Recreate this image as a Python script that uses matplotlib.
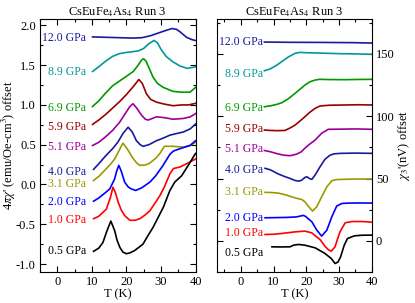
import matplotlib
matplotlib.use("Agg")
import matplotlib.pyplot as plt
from matplotlib.ticker import MultipleLocator

plt.rcParams['font.family'] = ['Liberation Serif', 'DejaVu Serif']
plt.rcParams['mathtext.fontset'] = 'stix'

pressures = ["12.0", "8.9", "6.9", "5.9", "5.1", "4.0", "3.1", "2.0", "1.0", "0.5"]
colors = ["#1a1a9c", "#009999", "#009900", "#990000", "#990099",
          "#1a1a9c", "#999900", "#0000ff", "#ff0000", "#000000"]

# Left panel: 4*pi*chi' (offset) vs T
chi_T = {
    "12.0": [10.2, 14, 18, 22, 24.5, 27, 29, 31, 33.2, 34.5, 35.5, 37.4, 39, 40],
    "8.9": [10.2, 12, 14, 16, 18, 20, 22, 23.5, 25, 26.5, 28, 29, 30, 31.5, 33.5, 35.5, 37.5, 39, 40],
    "6.9": [10.2, 12, 14, 16, 18, 20, 22, 23.4, 24.5, 25, 25.7, 26.7, 27.7, 29, 30.7, 33.5, 36, 38.4, 40],
    "5.9": [10.2, 12, 14, 16, 18, 20, 22, 23.6, 24.6, 25.8, 27, 28.7, 31, 33.5, 36, 38, 40],
    "5.1": [10.2, 12, 14, 16, 18, 19.5, 21, 21.9, 23, 24.4, 25.5, 26.3, 28.7, 31, 33.5, 36.5, 38.5, 40],
    "4.0": [10.5, 12, 14, 16, 17.5, 19, 20.5, 21.7, 22.9, 24, 24.8, 26.5, 28.7, 30.5, 32.6, 34.5, 36.5, 38.5, 40],
    "3.1": [10.5, 12, 14, 15.5, 16.6, 17.8, 19, 20.2, 21.9, 23, 23.9, 25.5, 26.8, 28.5, 29.7, 31, 33.5, 36.5, 38.5, 40],
    "2.0": [10.5, 12, 14, 15.2, 16.6, 17.2, 17.8, 18.5, 19.5, 20.5, 21.4, 22.7, 24.5, 26.8, 28.5, 30.6, 32.6, 33.6, 35.5, 38.4, 40],
    "1.0": [10.5, 12, 14.2, 15.4, 16.1, 16.8, 17.6, 18.5, 19.5, 21, 22.5, 23.9, 25.5, 26.8, 28.5, 29.7, 31, 32.6, 33.6, 35.5, 37.4, 40],
    "0.5": [10.5, 12, 13.2, 14.4, 15.5, 16.6, 17.3, 18.1, 19, 20, 21, 22.4, 24.8, 26, 27.7, 29, 30.7, 32.6, 34, 36, 37.9, 40],
}
chi_v = {
    "12.0": [1.855, 1.85, 1.845, 1.84, 1.845, 1.87, 1.9, 1.93, 1.96, 1.95, 1.92, 1.85, 1.82, 1.81],
    "8.9": [1.42, 1.48, 1.55, 1.61, 1.645, 1.66, 1.67, 1.68, 1.71, 1.77, 1.81, 1.78, 1.70, 1.61, 1.54, 1.49, 1.46, 1.47, 1.48],
    "6.9": [0.98, 1.05, 1.15, 1.24, 1.30, 1.36, 1.42, 1.50, 1.57, 1.58, 1.55, 1.45, 1.35, 1.27, 1.22, 1.17, 1.16, 1.16, 1.22],
    "5.9": [0.755, 0.81, 0.88, 0.96, 1.04, 1.13, 1.23, 1.32, 1.27, 1.14, 1.07, 1.035, 1.01, 0.99, 1.0, 1.0, 1.02],
    "5.1": [0.49, 0.53, 0.60, 0.68, 0.78, 0.88, 0.98, 1.015, 0.96, 0.87, 0.82, 0.81, 0.85, 0.84, 0.82, 0.83, 0.85, 0.89],
    "4.0": [0.19, 0.26, 0.36, 0.45, 0.53, 0.64, 0.72, 0.66, 0.55, 0.50, 0.48, 0.50, 0.55, 0.58, 0.62, 0.64, 0.66, 0.70, 0.76],
    "3.1": [0.05, 0.10, 0.19, 0.26, 0.32, 0.42, 0.52, 0.45, 0.33, 0.27, 0.24, 0.245, 0.27, 0.33, 0.39, 0.48, 0.48, 0.47, 0.49, 0.53],
    "2.0": [-0.21, -0.17, -0.10, -0.055, 0.07, 0.17, 0.24, 0.17, 0.03, -0.03, -0.055, -0.075, -0.04, 0.03, 0.11, 0.24, 0.38, 0.42, 0.45, 0.49, 0.55],
    "1.0": [-0.43, -0.40, -0.31, -0.16, -0.035, -0.10, -0.22, -0.32, -0.39, -0.45, -0.45, -0.43, -0.38, -0.33, -0.22, -0.14, -0.03, 0.135, 0.20, 0.22, 0.26, 0.32],
    "0.5": [-0.84, -0.80, -0.73, -0.58, -0.46, -0.58, -0.70, -0.79, -0.85, -0.87, -0.86, -0.83, -0.75, -0.66, -0.54, -0.43, -0.285, -0.075, 0.03, 0.11, 0.24, 0.39],
}
chi_label_y = [1.84, 1.41, 0.96, 0.72, 0.47, 0.155, 0.0, -0.22, -0.445, -0.83]

# Right panel: chi3' (offset) vs T
chi3_T = {
    "12.0": [7.2, 15, 25, 35, 40],
    "8.9": [7.2, 9, 11, 12.5, 14.5, 16.6, 18, 19.5, 22, 26, 30, 35, 40],
    "6.9": [7.2, 9, 11, 12.5, 14.5, 16.6, 18, 19.6, 21, 22.7, 24, 27, 32, 36, 40],
    "5.9": [7.2, 9, 11, 13.5, 15, 16.6, 18, 19.6, 21, 22.7, 24.2, 27, 32, 36, 40],
    "5.1": [7.2, 9, 11, 13, 15, 17, 18.5, 19.6, 21, 22.7, 24.7, 26.7, 30, 35, 40],
    "4.0": [7.4, 9, 11.5, 13, 15, 16.5, 17.6, 18.5, 19.6, 20.2, 20.9, 21.7, 22.7, 24.2, 25.7, 27.3, 28.5, 30.5, 35, 40],
    "3.1": [7.4, 9, 11.5, 13.5, 15.6, 17, 18.6, 19.6, 20.6, 21.9, 23.2, 24.7, 26.3, 27.8, 29, 30.5, 35, 40],
    "2.0": [7.4, 10, 14.1, 17, 19.1, 19.8, 20.7, 21.7, 23.2, 24.7, 26.3, 27.8, 29.3, 30.9, 33, 36, 40],
    "1.0": [7.4, 10, 12.5, 16.6, 19.6, 21.7, 23, 24.2, 25.7, 26.7, 27.6, 28.8, 29.5, 30.3, 31.9, 34, 37, 40],
    "0.5": [9.5, 12, 15, 16.1, 17.6, 19.6, 22.7, 25.7, 27.6, 28.8, 29.7, 30.5, 31.6, 32.6, 34.7, 37, 40],
}
chi3_v = {
    "12.0": [159.5, 159.3, 159.2, 159.0, 158.7],
    "8.9": [136.5, 138, 141, 143.8, 147.5, 150.5, 151.2, 151, 150.8, 150.5, 150.2, 150, 149.7],
    "6.9": [107.6, 108.3, 109.5, 110.8, 114, 118.4, 121.5, 125, 127.5, 129, 129.6, 129.4, 129.3, 129.5, 129.6],
    "5.9": [88.9, 88.6, 88.4, 88.6, 90.5, 92.9, 96, 99.6, 103, 106.3, 108.2, 108.8, 109, 109.2, 109],
    "5.1": [72.5, 71.5, 70, 68.8, 68.3, 69.5, 71.5, 74.4, 77.5, 80.9, 86.3, 89.5, 89.6, 89.8, 89.5],
    "4.0": [58.2, 57, 53.6, 52, 50.1, 48.5, 47.9, 48.5, 50.9, 51.4, 50.1, 49.3, 52.8, 59.4, 65.4, 68.8, 69.8, 70.2, 70.4, 70.2],
    "3.1": [38.9, 38.8, 38.3, 37, 35.3, 34.2, 33.2, 31.3, 27.9, 23.9, 27.3, 35.3, 43.4, 48.2, 49.1, 49.3, 49.6, 49.6],
    "2.0": [18.5, 18.6, 18.8, 19.2, 20.4, 19.6, 17.5, 15.3, 8.6, 3.8, 8.6, 19.3, 27.9, 30, 30.3, 30.4, 30.3],
    "1.0": [5.1, 5.3, 5.9, 7.2, 7.8, 6.4, 3.5, 1.1, -4.3, -7, -8.3, -4.8, 1, 7.2, 14.5, 15.5, 15.5, 15],
    "0.5": [-4.8, -4.9, -4.8, -3.5, -2.9, -3.5, -5.6, -10.1, -14.1, -18.2, -17, -12.8, -3.5, 1.9, 4.0, 4.5, 4.6],
}
chi3_label_y = [159.3, 134, 106.3, 89.5, 73.4, 56.8, 38.9, 18.5, 6.4, -10.1]

title = r"CsEuFe$_4$As$_4$ Run 3"

fig = plt.figure(figsize=(4.15, 3.03), dpi=100)
axL = fig.add_axes([40 / 415, 31 / 303, 155.5 / 415, 253 / 303])
axR = fig.add_axes([217.3 / 415, 31 / 303, 154.4 / 415, 253 / 303])

fs = 9
for i, p in enumerate(pressures):
    axL.plot(chi_T[p], chi_v[p], color=colors[i], lw=1.2)
    axL.text(8.3, chi_label_y[i], f"{p} GPa", color=colors[i], fontsize=8.5,
             ha="right", va="center")
    axR.plot(chi3_T[p], chi3_v[p], color=colors[i], lw=1.2)
    axR.text(6.8, chi3_label_y[i], f"{p} GPa", color=colors[i], fontsize=8.5,
             ha="right", va="center")

axL.set_xlim(-5, 40)
axL.set_ylim(-1.1, 2.08)
axR.set_xlim(-7.2, 40)
axR.set_ylim(-25, 178)

for ax in (axL, axR):
    ax.xaxis.set_major_locator(MultipleLocator(10))
    ax.xaxis.set_minor_locator(MultipleLocator(5))
    ax.tick_params(which="both", direction="in", top=True, right=True,
                   left=True, bottom=True, labelsize=fs, pad=3)
    ax.tick_params(which="major", length=4, width=0.8)
    ax.tick_params(which="minor", length=2, width=0.8)
    ax.set_xlabel("T (K)", fontsize=fs, labelpad=0)
    ax.set_title(title, fontsize=fs, pad=3)
    for s in ax.spines.values():
        s.set_linewidth(0.8)

axL.yaxis.set_major_locator(MultipleLocator(0.5))
axL.yaxis.set_minor_locator(MultipleLocator(0.25))
axL.set_yticks([-1.0, -0.5, 0.0, 0.5, 1.0, 1.5, 2.0])
axL.set_yticklabels(["-1.0", "-0.5", "0.0", "0.5", "1.0", "1.5", "2.0"])
axL.set_ylabel(r"4$\pi\chi$' (emu/Oe-cm$^3$) offset", fontsize=fs)
axL.yaxis.set_label_coords((18.5 - 40) / 155.5, 0.5)

axR.yaxis.set_major_locator(MultipleLocator(50))
axR.yaxis.set_minor_locator(MultipleLocator(25))
axR.tick_params(which="both", labelleft=False, labelright=True)
axR.yaxis.set_label_position("right")
axR.set_ylabel(r"$\chi_3$'(nV) offset", fontsize=fs)
axR.yaxis.set_label_coords((396 - 217.3) / 154.4, 0.5)

fig.savefig("out.png", dpi=100)
